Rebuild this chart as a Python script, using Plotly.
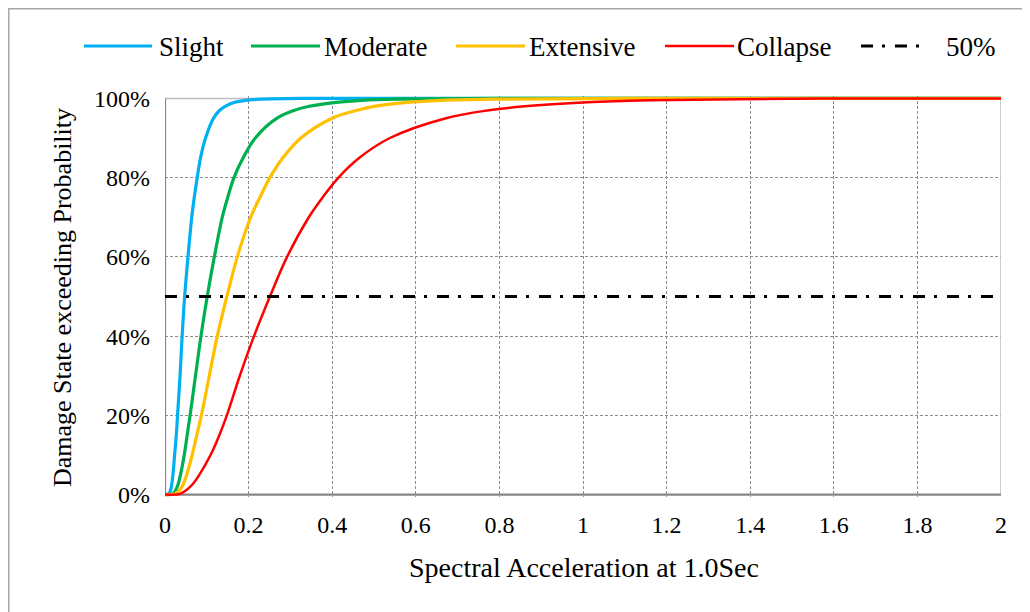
import plotly.graph_objects as go

# ---- data ----
prob_levels = [0, 0.2, 1, 2.5, 5, 10, 15, 20, 30, 40, 50, 60, 70, 75, 80, 85, 90, 95, 97, 98, 99, 99.5, 99.8, 100, 100]
sa_slight = [0, 0.009, 0.013, 0.016, 0.019, 0.023, 0.027, 0.030, 0.036, 0.041, 0.047, 0.055, 0.064, 0.070, 0.077, 0.085, 0.097, 0.116, 0.131, 0.144, 0.167, 0.192, 0.228, 0.35, 2.0]
sa_moderate = [0, 0.018, 0.025, 0.031, 0.037, 0.046, 0.053, 0.060, 0.073, 0.086, 0.101, 0.118, 0.137, 0.150, 0.165, 0.187, 0.216, 0.268, 0.31, 0.345, 0.41, 0.47, 0.56, 0.8, 2.0]
sa_extensive = [0, 0.024, 0.034, 0.043, 0.052, 0.065, 0.076, 0.087, 0.106, 0.125, 0.148, 0.173, 0.205, 0.227, 0.251, 0.282, 0.325, 0.40, 0.46, 0.50, 0.58, 0.66, 0.78, 1.1, 2.0]
sa_collapse = [0, 0.036, 0.049, 0.065, 0.082, 0.109, 0.130, 0.148, 0.179, 0.213, 0.251, 0.292, 0.344, 0.377, 0.415, 0.465, 0.538, 0.672, 0.775, 0.86, 1.01, 1.16, 1.37, 1.7, 2.0]
fifty_x = [0, 2]
fifty_y = [50, 50]

series_names = ["Slight", "Moderate", "Extensive", "Collapse"]
x_ticks = [0, 0.2, 0.4, 0.6, 0.8, 1, 1.2, 1.4, 1.6, 1.8, 2]
x_tick_text = ["0", "0.2", "0.4", "0.6", "0.8", "1", "1.2", "1.4", "1.6", "1.8", "2"]
y_ticks = [0, 20, 40, 60, 80, 100]
y_tick_text = ["0%", "20%", "40%", "60%", "80%", "100%"]

colors = ["#00B0F0", "#00B050", "#FFC000", "#FF0000"]
widths = [3.2, 3.2, 3.2, 2.5]
FONT = "Liberation Serif, Times New Roman, serif"

OFF = 8  # page body margin
W, H = 1030 - OFF, 612 - OFF
ML, MR, MT, MB = 165 - OFF, 29, 96 - OFF, 115
PW, PH = W - ML - MR, H - MT - MB


def px(xp):
    # page x pixel -> paper
    return (xp - OFF - ML) / PW


def py(yp):
    # page y pixel -> paper
    return (H - MB - (yp - OFF)) / PH


fig = go.Figure()
for name, xs, c, w in zip(series_names, [sa_slight, sa_moderate, sa_extensive, sa_collapse], colors, widths):
    fig.add_trace(go.Scatter(x=xs, y=prob_levels, mode="lines", name=name,
                             line=dict(color=c, width=w, shape="spline", smoothing=1.0),
                             showlegend=False))
fig.add_trace(go.Scatter(x=fifty_x, y=fifty_y, mode="lines", name="50%",
                         line=dict(color="black", width=3, dash="12px,9px,3px,10px"),
                         showlegend=False))

grid = "#8C8C8C"
fig.update_xaxes(range=[0, 2], tickvals=x_ticks, ticktext=x_tick_text, showgrid=True,
                 gridcolor=grid, gridwidth=1, griddash="3px,2px", zeroline=False, showline=False,
                 ticks="", ticklabelstandoff=11,
                 tickfont=dict(family=FONT, size=24, color="black"))
fig.update_yaxes(range=[-0.6, 100.6], tickvals=y_ticks, ticktext=y_tick_text, showgrid=True,
                 gridcolor=grid, gridwidth=1, griddash="3px,2px", zeroline=False, showline=False,
                 ticks="", ticklabelstandoff=14,
                 tickfont=dict(family=FONT, size=24, color="black"))

shapes = [
    dict(type="line", xref="x", yref="y", x0=0, x1=2, y0=100, y1=100, line=dict(color="#BFBFBF", width=1.5), layer="between"),
    dict(type="line", xref="x", yref="y", x0=2, x1=2, y0=0, y1=100, line=dict(color="#BFBFBF", width=1.5), layer="between"),
    dict(type="line", xref="x", yref="y", x0=0, x1=2, y0=0, y1=0, line=dict(color="#868686", width=2.2), layer="between"),
    dict(type="line", xref="x", yref="y", x0=0, x1=0, y0=0, y1=100, line=dict(color="#868686", width=2.2), layer="between"),
    # outer chart border (page coords ~8.8 .. 1027)
    dict(type="rect", xref="paper", yref="paper", x0=px(OFF + 0.8), x1=px(1027), y0=py(640), y1=py(OFF + 0.8),
         line=dict(color="#A6A6A6", width=1.5), fillcolor="rgba(0,0,0,0)", layer="below"),
]

annotations = []
legend_items = [
    ("Slight", colors[0], 3.2, "solid", 84, 152, 157),
    ("Moderate", colors[1], 3.2, "solid", 251, 320, 322),
    ("Extensive", colors[2], 3.2, "solid", 456, 525, 527),
    ("Collapse", colors[3], 2.5, "solid", 665, 734, 735),
    ("50%", "black", 3, "12px,9px,3px,10px", 861, 928, 944),
]
leg_y = 46
for label, c, w, d, xa, xb, xt in legend_items:
    shapes.append(dict(type="line", xref="paper", yref="paper", x0=px(xa), x1=px(xb), y0=py(leg_y), y1=py(leg_y),
                       line=dict(color=c, width=w, dash=d)))
    annotations.append(dict(text=label, xref="paper", yref="paper", x=px(xt), y=py(leg_y + 1),
                            xanchor="left", yanchor="middle", showarrow=False,
                            font=dict(family=FONT, size=27, color="black")))

annotations.append(dict(text="Spectral Acceleration at 1.0Sec", xref="paper", yref="paper",
                        x=px(584), y=py(567), xanchor="center", yanchor="middle", showarrow=False,
                        font=dict(family=FONT, size=28, color="black")))
annotations.append(dict(text="Damage State exceeding Probability", xref="paper", yref="paper",
                        x=px(62), y=py(298), xanchor="center", yanchor="middle", showarrow=False,
                        textangle=-90, font=dict(family=FONT, size=26, color="black")))

fig.update_layout(width=W, height=H, margin=dict(l=ML, r=MR, t=MT, b=MB),
                  paper_bgcolor="white", plot_bgcolor="white",
                  shapes=shapes, annotations=annotations, showlegend=False)

fig.write_html("out.html")
